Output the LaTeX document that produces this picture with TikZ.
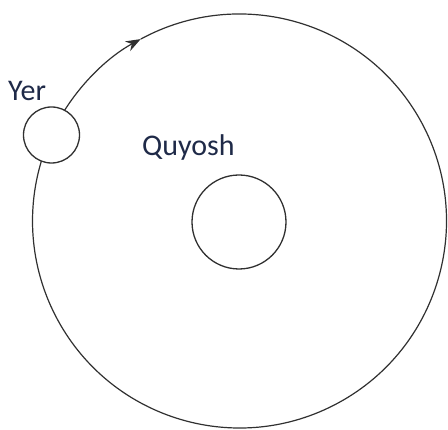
\documentclass[tikz,border=0pt]{standalone}
\usepackage{fontspec}
\setmainfont{Carlito}
\usetikzlibrary{arrows.meta}
\definecolor{txt}{HTML}{1F2A48}
\definecolor{ln}{HTML}{303030}
\begin{document}
\begin{tikzpicture}[x=1pt,y=1pt,
  body/.style={circle,draw=ln,line width=1.3pt,inner sep=0pt,fill=white},
  lbl/.style={anchor=base west,text=txt,font=\fontsize{30}{33}\selectfont,inner sep=0pt},
  orbit/.style={draw=ln,line width=1.2pt}]
\useasboundingbox (0,0) rectangle (448,430);
\coordinate (O) at (239.5,209);
\node[body,minimum size=94pt] (sun) at (239,208) {};
\node[body,minimum size=56pt] (earth) at (51.5,295) {};
\draw[orbit,-{Stealth[length=15pt,width=11pt]}] (O) ++(147.6:207) coordinate (e1) arc[start angle=147.6,end angle=118.5,radius=207] coordinate (ar);
\draw[orbit] (ar) arc[start angle=118.5,end angle=-196.8,radius=207] coordinate (e2);
\node[lbl] (yer) at (8,329) {Yer};
\node[lbl] (quyosh) at (142,274) {Quyosh};
\end{tikzpicture}
\end{document}
